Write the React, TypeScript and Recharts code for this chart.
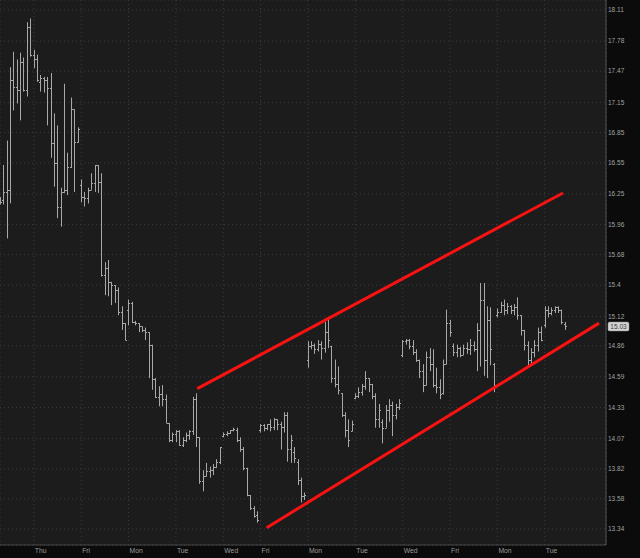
import { ComposedChart, Bar, XAxis, YAxis, CartesianGrid, ReferenceLine } from 'recharts';

// day boundaries on the bar index axis (14 bars a day, short Wed before the holiday)
const dayLabels = ['Thu', 'Fri', 'Mon', 'Tue', 'Wed', 'Fri', 'Mon', 'Tue', 'Wed', 'Fri', 'Mon', 'Tue'];
const dayStarts = [10, 24, 38, 52, 66, 77, 91, 105, 119, 133, 147, 161];

const priceTicks = [18.11, 17.78, 17.47, 17.15, 16.85, 16.55, 16.25, 15.96, 15.68, 15.4, 15.12, 14.86, 14.59, 14.33, 14.07, 13.82, 13.58, 13.34];

const opens = [
    16.19, 16.19, 16.27, 16.29, 17.38, 17.31, 17.28, 17.56, 17.28, 17.93,
    17.64, 17.59, 17.36, 17.40, 17.38, 17.30, 16.75, 16.55, 16.13, 16.27,
    16.29, 16.51, 17.08, 16.76, 16.34, 16.22, 16.21, 16.29, 16.36, 16.53,
    16.37, 15.49, 15.56, 15.43, 15.40, 15.36, 15.16, 15.06, 15.18, 15.24,
    15.07, 15.06, 15.03, 15.00, 14.98, 14.87, 14.57, 14.42, 14.44, 14.40,
    14.20, 14.06, 14.11, 14.13, 14.02, 14.06, 14.10, 14.13, 14.40, 14.08,
    13.72, 13.76, 13.80, 13.81, 13.84, 13.88, 14.09, 14.11, 14.12, 14.14,
    14.14, 14.06, 13.98, 13.83, 13.61, 13.51, 13.45, 14.14, 14.18, 14.16,
    14.19, 14.17, 14.23, 14.19, 14.17, 14.27, 13.98, 13.96, 13.88, 13.73,
    13.60, 14.74, 14.86, 14.87, 14.83, 14.88, 14.84, 14.98, 14.86, 14.58,
    14.53, 14.45, 14.27, 14.14, 14.13, 14.41, 14.43, 14.46, 14.51, 14.58,
    14.53, 14.43, 14.23, 14.21, 14.16, 14.31, 14.35, 14.27, 14.33, 14.78,
    14.90, 14.91, 14.86, 14.81, 14.74, 14.64, 14.52, 14.76, 14.70, 14.52,
    14.50, 14.45, 14.70, 15.06, 14.86, 14.81, 14.84, 14.78, 14.84, 14.83,
    14.87, 14.83, 15.00, 15.27, 14.74, 15.09, 14.70, 15.13, 15.16, 15.22,
    15.18, 15.21, 15.18, 15.20, 15.13, 15.00, 14.87, 14.74, 14.81, 14.87,
    14.98, 15.04, 15.18, 15.15, 15.18, 15.20, 15.18, 15.05,
];
const highs = [
    16.22, 16.53, 16.77, 17.51, 17.67, 17.59, 17.66, 17.61, 17.98, 18.02,
    17.69, 17.64, 17.43, 17.41, 17.41, 17.45, 17.04, 16.92, 16.31, 17.34,
    16.65, 17.20, 17.08, 16.90, 16.39, 16.27, 16.31, 16.45, 16.53, 16.53,
    16.45, 15.61, 15.63, 15.43, 15.40, 15.38, 15.21, 15.06, 15.27, 15.25,
    15.08, 15.06, 15.03, 15.02, 14.98, 14.87, 14.58, 14.51, 14.52, 14.44,
    14.20, 14.12, 14.14, 14.14, 14.08, 14.12, 14.14, 14.42, 14.45, 14.08,
    13.81, 13.87, 13.84, 13.86, 13.90, 14.00, 14.12, 14.13, 14.14, 14.16,
    14.16, 14.08, 14.00, 13.83, 13.61, 13.52, 13.48, 14.19, 14.19, 14.19,
    14.23, 14.24, 14.23, 14.21, 14.29, 14.29, 14.10, 14.00, 13.90, 13.75,
    13.63, 14.90, 14.90, 14.88, 14.91, 14.90, 15.07, 15.11, 14.86, 14.74,
    14.68, 14.45, 14.29, 14.23, 14.22, 14.45, 14.50, 14.53, 14.64, 14.58,
    14.53, 14.45, 14.36, 14.23, 14.35, 14.40, 14.38, 14.36, 14.40, 14.91,
    14.92, 14.92, 14.91, 14.83, 14.74, 14.70, 14.81, 14.84, 14.83, 14.67,
    14.57, 14.74, 15.18, 15.09, 14.88, 14.87, 14.85, 14.87, 14.89, 14.92,
    14.90, 15.06, 15.42, 15.42, 15.21, 15.20, 14.71, 15.19, 15.25, 15.27,
    15.24, 15.22, 15.23, 15.29, 15.13, 15.00, 14.90, 14.84, 14.91, 15.02,
    15.03, 15.21, 15.21, 15.20, 15.21, 15.21, 15.18, 15.07,
];
const lows = [
    16.15, 16.15, 15.83, 16.16, 17.07, 17.14, 16.97, 17.26, 17.21, 17.62,
    17.50, 17.36, 17.26, 17.25, 16.92, 16.60, 16.32, 16.02, 15.94, 16.26,
    16.24, 16.50, 16.27, 16.75, 16.17, 16.13, 16.16, 16.29, 16.27, 16.26,
    15.48, 15.31, 15.30, 15.22, 15.24, 15.13, 15.00, 14.91, 15.04, 15.06,
    15.04, 14.98, 14.98, 14.91, 14.58, 14.48, 14.41, 14.34, 14.34, 14.20,
    14.04, 14.04, 14.04, 14.01, 14.00, 14.04, 14.06, 14.10, 14.00, 13.70,
    13.64, 13.76, 13.75, 13.77, 13.83, 13.86, 14.08, 14.09, 14.11, 14.13,
    14.04, 13.96, 13.81, 13.60, 13.49, 13.43, 13.39, 14.12, 14.13, 14.14,
    14.13, 14.14, 14.14, 13.98, 14.12, 13.88, 13.87, 13.87, 13.69, 13.55,
    13.57, 14.67, 14.83, 14.79, 14.81, 14.74, 14.80, 14.84, 14.54, 14.50,
    14.44, 14.25, 14.08, 14.00, 14.13, 14.40, 14.41, 14.43, 14.48, 14.46,
    14.40, 14.16, 14.16, 14.03, 14.16, 14.21, 14.09, 14.23, 14.31, 14.76,
    14.87, 14.83, 14.78, 14.72, 14.58, 14.46, 14.52, 14.64, 14.50, 14.45,
    14.40, 14.44, 14.70, 14.94, 14.77, 14.76, 14.76, 14.78, 14.79, 14.78,
    14.81, 14.64, 14.68, 14.60, 14.58, 14.69, 14.46, 15.11, 15.15, 15.13,
    15.14, 15.14, 15.13, 15.09, 14.95, 14.82, 14.68, 14.69, 14.76, 14.81,
    14.90, 15.02, 15.11, 15.13, 15.15, 15.15, 15.05, 15.00,
];
const closes = [
    16.17, 16.27, 16.29, 17.38, 17.31, 17.28, 17.56, 17.28, 17.93, 17.64,
    17.59, 17.38, 17.40, 17.38, 17.30, 16.75, 16.55, 16.13, 16.27, 16.29,
    16.51, 17.08, 16.76, 16.88, 16.22, 16.21, 16.29, 16.36, 16.53, 16.37,
    15.49, 15.56, 15.43, 15.40, 15.36, 15.16, 15.06, 14.91, 15.24, 15.07,
    15.06, 15.03, 15.00, 14.98, 14.87, 14.57, 14.42, 14.44, 14.40, 14.20,
    14.06, 14.11, 14.13, 14.02, 14.06, 14.10, 14.13, 14.40, 14.08, 13.72,
    13.76, 13.80, 13.81, 13.84, 13.88, 14.00, 14.11, 14.12, 14.14, 14.15,
    14.06, 13.98, 13.83, 13.61, 13.51, 13.44, 13.41, 14.18, 14.16, 14.19,
    14.17, 14.23, 14.19, 14.17, 14.27, 13.98, 14.06, 13.91, 13.73, 13.60,
    13.61, 14.86, 14.87, 14.83, 14.88, 14.84, 14.98, 14.91, 14.58, 14.53,
    14.48, 14.27, 14.14, 14.06, 14.19, 14.43, 14.46, 14.51, 14.58, 14.53,
    14.43, 14.23, 14.31, 14.16, 14.31, 14.35, 14.27, 14.33, 14.37, 14.90,
    14.91, 14.86, 14.81, 14.74, 14.64, 14.52, 14.76, 14.70, 14.52, 14.50,
    14.44, 14.70, 15.06, 14.98, 14.81, 14.84, 14.78, 14.84, 14.83, 14.87,
    14.83, 15.00, 15.27, 14.74, 15.09, 14.83, 14.52, 15.16, 15.22, 15.18,
    15.21, 15.18, 15.20, 15.13, 15.00, 14.87, 14.74, 14.81, 14.87, 14.98,
    14.91, 15.18, 15.15, 15.18, 15.20, 15.18, 15.07, 15.03,
];

const lastPrice = 15.03;

// drawn trend channel: [bar index, price] at each end
const upperTrend = [{ x: 58.31, y: 14.49 }, { x: 166.39, y: 16.26 }];
const lowerTrend = [{ x: 78.82, y: 13.35 }, { x: 177.03, y: 15.06 }];

const FONT = '"Liberation Sans", Arial, sans-serif';

const data = opens.map((o, i) => ({
    i,
    open: o,
    high: highs[i],
    low: lows[i],
    close: closes[i],
    range: [lows[i], highs[i]],
}));

function OhlcBar(props: any) {
    const { x, y, width, height, payload } = props;
    if (!payload || x == null || y == null) return null;
    const cx = Math.round(x + width / 2) + 0.5;
    const top = Math.min(y, y + height);
    const span = Math.abs(height);
    const lh = Math.log(payload.high);
    const ll = Math.log(payload.low);
    // log axis: place open/close between the high and low pixels in log space
    const at = (v: number) => (lh === ll ? top : top + (span * (lh - Math.log(v))) / (lh - ll));
    const yo = Math.round(at(payload.open)) + 0.5;
    const yc = Math.round(at(payload.close)) + 0.5;
    return (
        <g stroke="#a8a8a8" strokeWidth={1}>
            <line x1={cx} x2={cx} y1={top} y2={top + Math.max(span, 1)} />
            <line x1={cx - 1.5} x2={cx} y1={yo} y2={yo} />
            <line x1={cx} x2={cx + 1.5} y1={yc} y2={yc} />
        </g>
    );
}

function DayTick(props: any) {
    const { x, y, payload } = props;
    const idx = dayStarts.indexOf(payload.value);
    return (
        <text x={x + 1} y={y} dy="0.35em" fill="#9a9a9a" fontSize={6.8} fontFamily={FONT} textAnchor="start">
            {idx >= 0 ? dayLabels[idx] : ''}
        </text>
    );
}

function PriceTick(props: any) {
    const { x, y, payload } = props;
    return (
        <text x={x} y={y} dy="0.35em" fill="#a2a2a2" fontSize={6.5} fontFamily={FONT} textAnchor="start">
            {String(payload.value)}
        </text>
    );
}

function PriceTag(props: any) {
    const vb = props.viewBox;
    if (!vb) return null;
    const x = vb.x + vb.width + 2;
    const y = vb.y;
    return (
        <g>
            <rect x={x} y={y - 4.5} width={21} height={9} rx={1.5} fill="#d4d4d4" stroke="#8a8a8a" strokeWidth={0.5} />
            <text x={x + 10.5} y={y} dy="0.35em" textAnchor="middle" fontSize={6.5} fontFamily={FONT} fill="#3a3a3a">
                {lastPrice.toFixed(2)}
            </text>
        </g>
    );
}

export default function App() {
    return (
        <div style={{ position: 'absolute', left: 0, top: 0, width: 640, height: 558, background: '#0b0b0b' }}>
            <ComposedChart width={640} height={558} data={data} margin={{ top: 0, right: 0, bottom: 0, left: 0 }}>
                <CartesianGrid stroke="#3b3b3b" strokeDasharray="1 3" fill="#1c1c1c" fillOpacity={1} />
                <XAxis
                    dataKey="i"
                    type="number"
                    domain={[0, 179.1]}
                    allowDataOverflow
                    ticks={dayStarts}
                    interval={0}
                    tick={<DayTick />}
                    tickLine={false}
                    tickSize={0}
                    tickMargin={6}
                    axisLine={{ stroke: '#474747' }}
                    height={13}
                />
                <YAxis
                    orientation="right"
                    type="number"
                    scale="log"
                    domain={[13.215, 18.217]}
                    allowDataOverflow
                    ticks={priceTicks}
                    interval={0}
                    tick={<PriceTick />}
                    tickLine={false}
                    tickSize={0}
                    tickMargin={2}
                    axisLine={{ stroke: '#555555' }}
                    width={34}
                />
                <Bar dataKey="range" barSize={3} shape={(p: any) => <OhlcBar {...p} />} isAnimationActive={false} />
                <ReferenceLine segment={upperTrend} stroke="#f81212" strokeWidth={3} />
                <ReferenceLine segment={lowerTrend} stroke="#f81212" strokeWidth={3} />
                <ReferenceLine y={lastPrice} stroke="none" label={<PriceTag />} />
            </ComposedChart>
        </div>
    );
}
